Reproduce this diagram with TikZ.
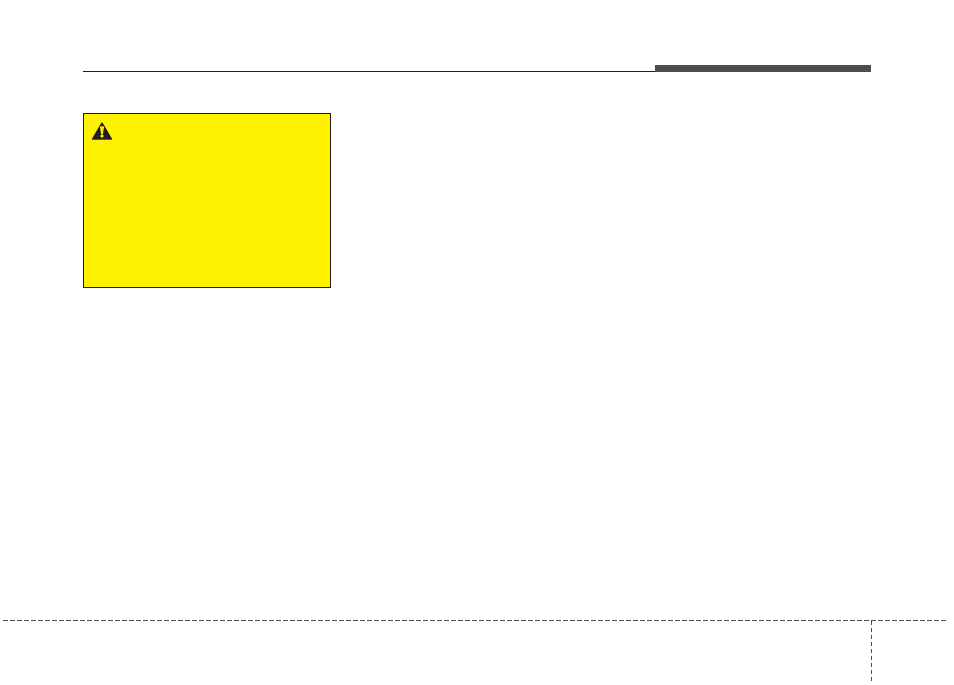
\documentclass[tikz,border=0pt]{standalone}
\definecolor{warnyellow}{RGB}{255,242,0}
\definecolor{bargray}{RGB}{77,77,79}
\definecolor{signblack}{RGB}{35,31,32}
\tikzset{
	footdash/.style={draw=bargray, line width=0.8pt, dash pattern=on 3.5pt off 1.75pt},
}
\begin{document}
	\begin{tikzpicture}[x=0.75pt,y=0.75pt,yscale=-1,xscale=1]
		%page size
		\useasboundingbox (0,0) rectangle (954,685);
		
		%Header rule
		\draw [color=signblack, line width=0.75pt]   (83,71.5) -- (655,71.5) ;
		%Header bar
		\fill [bargray] (655,65) rectangle (871,72) ;
		
		%Warning box
		\draw [draw=signblack, fill=warnyellow, line width=0.8pt]   (83.5,113.5) rectangle (330.5,287.5) ;
		%Warning sign
		\filldraw [signblack, line join=round, line width=0.75pt]   (102,122.8) -- (111.6,139.2) -- (92.4,139.2) -- cycle ;
		\fill [warnyellow]   (100,126.5) -- (104,126.5) -- (103,133.8) -- (101,133.8) -- cycle ;
		\fill [warnyellow]   (102,136) circle [radius=1.8] ;
		
		%Footer lines
		\draw [footdash]   (3,620.5) -- (947,620.5) ;
		\draw [footdash]   (871.5,620.5) -- (871.5,682) ;
	\end{tikzpicture}
\end{document}
